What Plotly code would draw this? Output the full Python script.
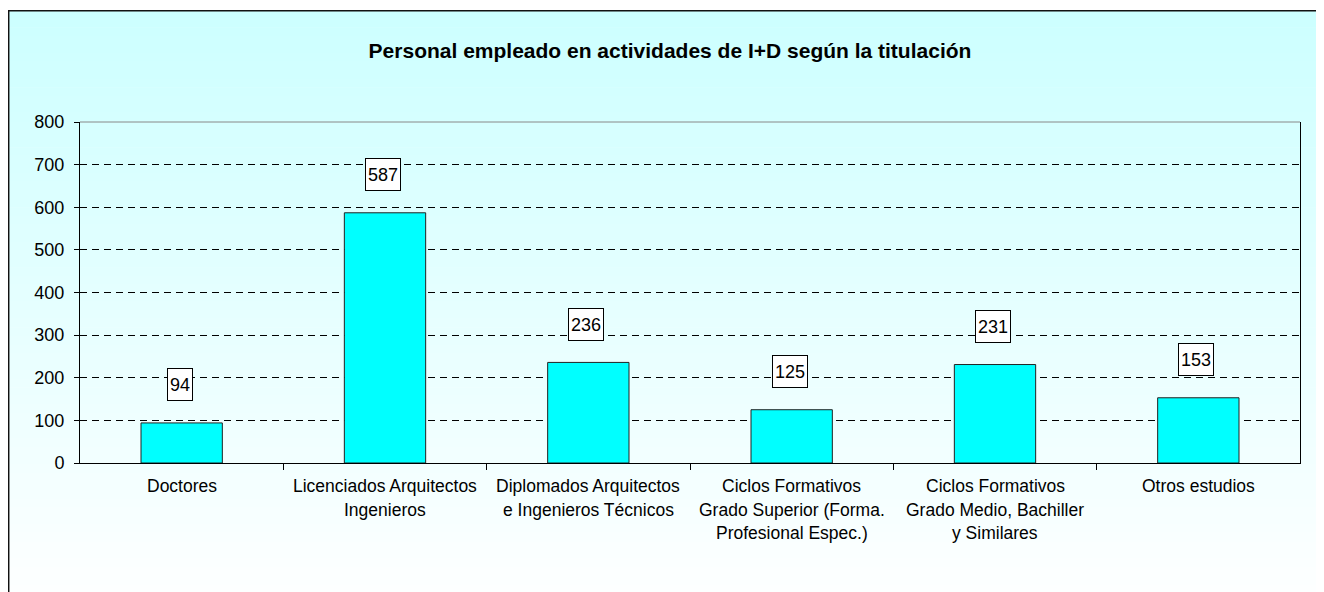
import plotly.graph_objects as go

categories = [
    "Doctores",
    "Licenciados Arquitectos\nIngenieros",
    "Diplomados Arquitectos\ne Ingenieros Técnicos",
    "Ciclos Formativos\nGrado Superior (Forma.\nProfesional Espec.)",
    "Ciclos Formativos\nGrado Medio, Bachiller\ny Similares",
    "Otros estudios",
]
values = [94, 587, 236, 125, 231, 153]
y_ticks = [0, 100, 200, 300, 400, 500, 600, 700, 800]
title = "Personal empleado en actividades de I+D según la titulación"

FONT = "Liberation Sans, Arial, sans-serif"
OFF = 8  # page body margin
W, H = 1324 - OFF, 592 - OFF
# plot area in page pixels: x 80..1300, y 122..463
L, T = 80 - OFF, 122 - OFF
R = W - (1300 - OFF)
B = H - (463 - OFF)
pw, ph = W - L - R, H - T - B


def xp(px):
    """page pixel -> paper x"""
    return (px - OFF - L) / pw


def yp(py):
    """page pixel -> paper y"""
    return (H - B - (py - OFF)) / ph


fig = go.Figure()
fig.add_trace(go.Bar(
    x=list(range(len(categories))),
    y=values,
    width=0.40,
    marker=dict(color="#00FFFF", line=dict(color="#222222", width=1)),
    hoverinfo="skip",
))

shapes = []
# gradient background inside the frame
top_px, bot_px = 10, 610
n = 70
for i in range(n):
    y0 = top_px + (bot_px - top_px) * i / n
    y1 = top_px + (bot_px - top_px) * (i + 1) / n + 0.6
    t = (i + 0.5) / n
    r = int(round(204 + (255 - 204) * t))
    shapes.append(dict(
        type="rect", xref="paper", yref="paper", layer="below",
        x0=xp(8), x1=xp(1340), y0=yp(y1), y1=yp(y0),
        fillcolor=f"rgb({r},255,255)", line=dict(width=0),
    ))
# outer frame
shapes.append(dict(
    type="rect", xref="paper", yref="paper", layer="below",
    x0=xp(8.7), x1=xp(1350), y0=yp(620), y1=yp(10.7),
    fillcolor="rgba(0,0,0,0)", line=dict(color="#111111", width=1.5),
))
# top border of plot area (gray)
shapes.append(dict(
    type="line", xref="paper", yref="paper", layer="below",
    x0=0, x1=1, y0=1, y1=1, line=dict(color="#888888", width=1),
))

annotations = []
# value labels
for i, v in enumerate(values):
    annotations.append(dict(
        x=i, y=v, xref="x", yref="y", text=str(v), showarrow=False,
        yanchor="middle", yshift=38, xshift=-2,
        font=dict(family=FONT, size=18, color="black"),
        bgcolor="white", bordercolor="black", borderwidth=1, borderpad=2,
        height=27,
    ))
# category labels (line by line)
for i, c in enumerate(categories):
    for j, line in enumerate(c.split("\n")):
        annotations.append(dict(
            x=i, y=0, xref="x", yref="y", text=line, showarrow=False,
            yanchor="middle", yshift=-23 - 23.5 * j,
            font=dict(family=FONT, size=17.5, color="black"),
        ))

fig.update_layout(
    width=W, height=H,
    margin=dict(l=L, r=R, t=T, b=B, pad=0),
    paper_bgcolor="white",
    plot_bgcolor="rgba(0,0,0,0)",
    showlegend=False,
    title=dict(
        text=f"<b>{title}</b>", x=(670 - OFF) / W, xanchor="center",
        y=1 - (51 - OFF) / H, yanchor="middle", yref="container",
        font=dict(family=FONT, size=21, color="black"),
    ),
    xaxis=dict(
        type="linear", range=[-0.5, len(categories) - 0.5],
        tickvals=[k + 0.5 for k in range(len(categories) - 1)],
        showticklabels=False, ticks="outside", ticklen=6,
        tickcolor="black", showline=True, linecolor="black", linewidth=1,
        showgrid=False, zeroline=False, fixedrange=True,
    ),
    yaxis=dict(
        range=[0, 800], tickvals=y_ticks, ticktext=[str(t) for t in y_ticks],
        ticks="outside", ticklen=5, tickcolor="black",
        tickfont=dict(family=FONT, size=18, color="black"),
        ticklabelstandoff=6,
        showline=True, linecolor="black", linewidth=1, mirror=True,
        showgrid=True, gridcolor="black", gridwidth=1, griddash="7px,5px",
        zeroline=False, fixedrange=True,
    ),
    shapes=shapes,
    annotations=annotations,
)

fig.write_html("out.html")
